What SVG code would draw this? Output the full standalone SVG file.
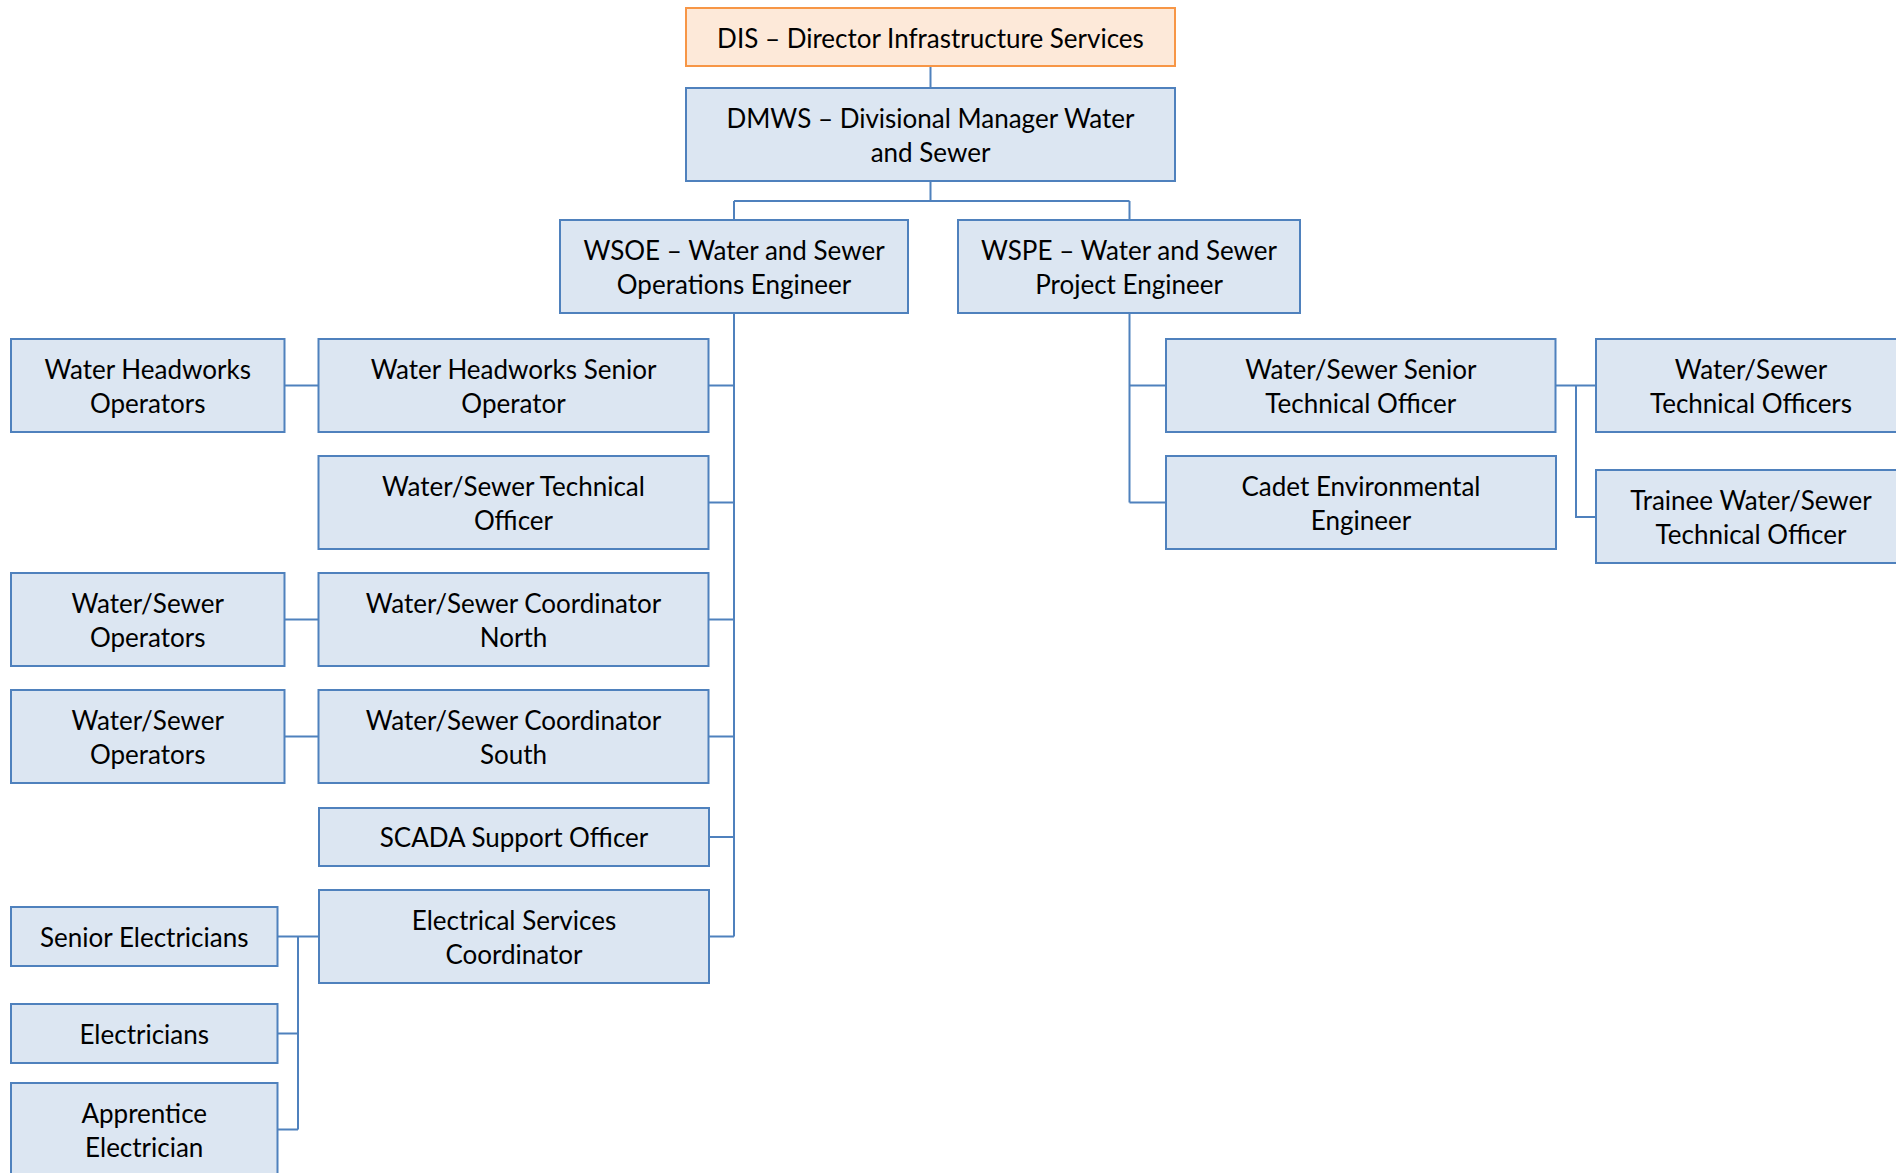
<svg xmlns="http://www.w3.org/2000/svg" width="1896" height="1173" viewBox="0 0 1896 1173">
  <style>
    .box { fill: #dce6f2; stroke: #4f81bd; stroke-width: 2; }
    .top { fill: #fde9d9; stroke: #f79646; stroke-width: 2; }
    .lbl { font-family: Lato, "Liberation Sans", sans-serif; font-size: 26px; fill: #000; text-anchor: middle; }
    .wire { fill: none; stroke: #4f81bd; stroke-width: 2; }
  </style>
  <rect width="1896" height="1173" fill="#ffffff"/>

  <!-- reporting lines -->
  <g id="connectors">
    <path class="wire" d="M930.5 66 V88"/>
    <path class="wire" d="M930.5 181 V201 M734 201 H1129.5 M734 201 V220 M1129.5 201 V220"/>
    <!-- operations branch -->
    <path class="wire" d="M734 313 V936.5"/>
    <path class="wire" d="M708.5 385.5 H734 M708.5 502.5 H734 M708.5 619.5 H734 M708.5 736.5 H734 M708.5 837 H734 M708.5 936.5 H734"/>
    <path class="wire" d="M284.5 385.5 H318.5 M284.5 619.5 H318.5 M284.5 736.5 H318.5"/>
    <path class="wire" d="M277.5 936.5 H319 M298 936.5 V1129.5 M277.5 1033.5 H298 M277.5 1129.5 H298"/>
    <!-- project branch -->
    <path class="wire" d="M1129.5 313 V502.5 M1129.5 385.5 H1166 M1129.5 502.5 H1166"/>
    <path class="wire" d="M1555.5 385.5 H1596 M1576 385.5 V517 H1596"/>
  </g>

  <g id="dis">
    <rect class="top" x="686" y="8" width="489" height="58"/>
    <text class="lbl" x="930.5" y="47.5">DIS – Director Infrastructure Services</text>
  </g>
  <g id="dmws">
    <rect class="box" x="686" y="88" width="489" height="93"/>
    <text class="lbl" x="930.5" y="128">DMWS – Divisional Manager Water</text>
    <text class="lbl" x="930.5" y="162">and Sewer</text>
  </g>
  <g id="wsoe">
    <rect class="box" x="560" y="220" width="348" height="93"/>
    <text class="lbl" x="734" y="260">WSOE – Water and Sewer</text>
    <text class="lbl" x="734" y="294">Operations Engineer</text>
  </g>
  <g id="wspe">
    <rect class="box" x="958" y="220" width="342" height="93"/>
    <text class="lbl" x="1129" y="260">WSPE – Water and Sewer</text>
    <text class="lbl" x="1129" y="294">Project Engineer</text>
  </g>

  <g id="headworks-operators">
    <rect class="box" x="11" y="339" width="273.5" height="93"/>
    <text class="lbl" x="147.75" y="379">Water Headworks</text>
    <text class="lbl" x="147.75" y="413">Operators</text>
  </g>
  <g id="headworks-senior">
    <rect class="box" x="318.5" y="339" width="390" height="93"/>
    <text class="lbl" x="513.5" y="379">Water Headworks Senior</text>
    <text class="lbl" x="513.5" y="413">Operator</text>
  </g>
  <g id="ws-technical-officer">
    <rect class="box" x="318.5" y="456" width="390" height="93"/>
    <text class="lbl" x="513.5" y="496">Water/Sewer Technical</text>
    <text class="lbl" x="513.5" y="530">Officer</text>
  </g>
  <g id="ws-operators-north">
    <rect class="box" x="11" y="573" width="273.5" height="93"/>
    <text class="lbl" x="147.75" y="613">Water/Sewer</text>
    <text class="lbl" x="147.75" y="647">Operators</text>
  </g>
  <g id="ws-coordinator-north">
    <rect class="box" x="318.5" y="573" width="390" height="93"/>
    <text class="lbl" x="513.5" y="613">Water/Sewer Coordinator</text>
    <text class="lbl" x="513.5" y="647">North</text>
  </g>
  <g id="ws-operators-south">
    <rect class="box" x="11" y="690" width="273.5" height="93"/>
    <text class="lbl" x="147.75" y="730">Water/Sewer</text>
    <text class="lbl" x="147.75" y="764">Operators</text>
  </g>
  <g id="ws-coordinator-south">
    <rect class="box" x="318.5" y="690" width="390" height="93"/>
    <text class="lbl" x="513.5" y="730">Water/Sewer Coordinator</text>
    <text class="lbl" x="513.5" y="764">South</text>
  </g>
  <g id="scada">
    <rect class="box" x="319" y="808" width="390" height="58"/>
    <text class="lbl" x="514" y="847">SCADA Support Officer</text>
  </g>
  <g id="electrical-coordinator">
    <rect class="box" x="319" y="890" width="390" height="93"/>
    <text class="lbl" x="514" y="930">Electrical Services</text>
    <text class="lbl" x="514" y="964">Coordinator</text>
  </g>
  <g id="senior-electricians">
    <rect class="box" x="11" y="907" width="266.5" height="59"/>
    <text class="lbl" x="144.25" y="946.5">Senior Electricians</text>
  </g>
  <g id="electricians">
    <rect class="box" x="11" y="1004" width="266.5" height="59"/>
    <text class="lbl" x="144.25" y="1043.5">Electricians</text>
  </g>
  <g id="apprentice-electrician">
    <rect class="box" x="11" y="1083" width="266.5" height="93"/>
    <text class="lbl" x="144.25" y="1123">Apprentice</text>
    <text class="lbl" x="144.25" y="1157">Electrician</text>
  </g>

  <g id="ws-senior-technical-officer">
    <rect class="box" x="1166" y="339" width="389.5" height="93"/>
    <text class="lbl" x="1360.75" y="379">Water/Sewer Senior</text>
    <text class="lbl" x="1360.75" y="413">Technical Officer</text>
  </g>
  <g id="cadet-engineer">
    <rect class="box" x="1166" y="456" width="390" height="93"/>
    <text class="lbl" x="1361" y="496">Cadet Environmental</text>
    <text class="lbl" x="1361" y="530">Engineer</text>
  </g>
  <g id="ws-technical-officers">
    <rect class="box" x="1596" y="339" width="310" height="93"/>
    <text class="lbl" x="1751" y="379">Water/Sewer</text>
    <text class="lbl" x="1751" y="413">Technical Officers</text>
  </g>
  <g id="trainee-technical-officer">
    <rect class="box" x="1596" y="470" width="310" height="93"/>
    <text class="lbl" x="1751" y="510">Trainee Water/Sewer</text>
    <text class="lbl" x="1751" y="544">Technical Officer</text>
  </g>
</svg>
